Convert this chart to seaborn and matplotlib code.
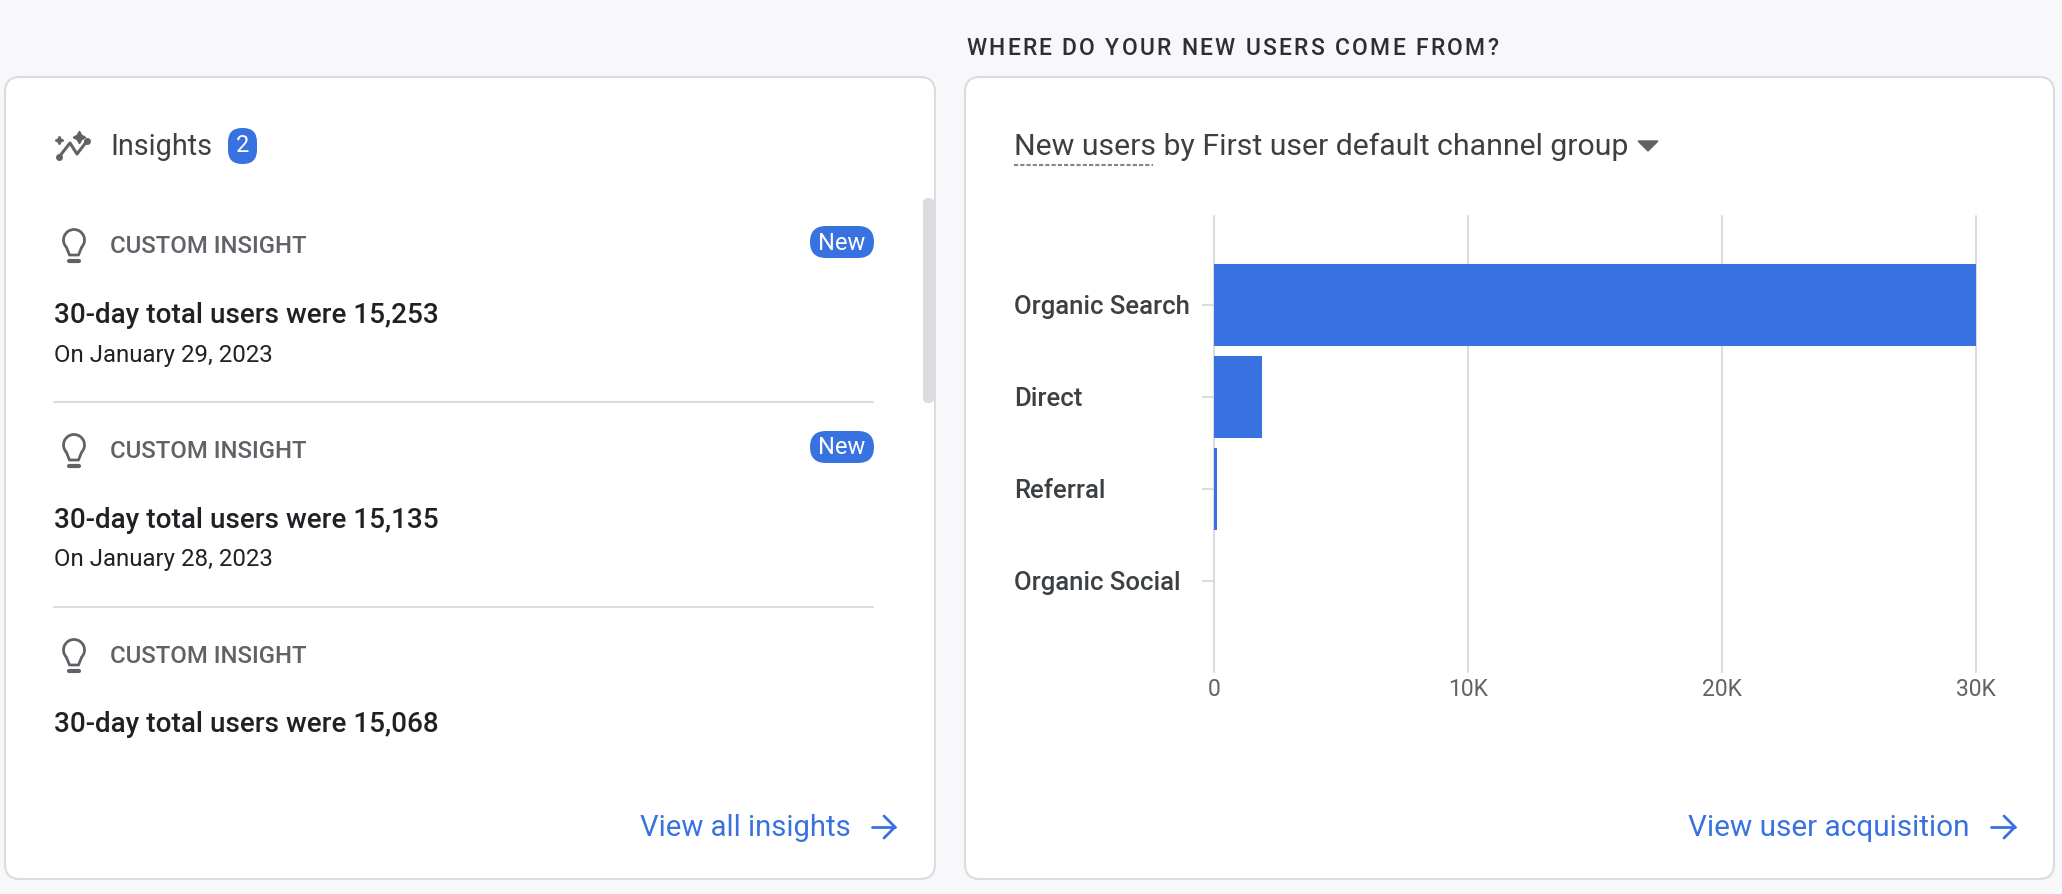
import matplotlib

matplotlib.use("Agg")
import matplotlib.pyplot as plt
import pandas as pd
import seaborn as sns
from matplotlib.patches import Arc, FancyBboxPatch, Polygon

# --- chart values ---
channels = ["Organic Search", "Direct", "Referral", "Organic Social"]
new_users = [30000, 1900, 110, 15]
x_ticks = [0, 10000, 20000, 30000]
x_tick_labels = ["0", "10K", "20K", "30K"]

# --- panel text ---
insight_totals = ["15,253", "15,135", "15,068"]
insight_dates = ["January 29, 2023", "January 28, 2023", None]
insight_is_new = [True, True, False]

W, H = 2062, 894
BLUE = "#3871e0"
GRID = "#dadce0"
DARK = "#202124"
TEXT = "#3c4043"
GREY = "#5f6368"

sns.set_theme(style="white")
plt.rcParams["font.family"] = ["Roboto", "DejaVu Sans"]

fig = plt.figure(figsize=(W / 100, H / 100), dpi=100, facecolor="#f8f8fb")

# page layer works in image pixels, y going down
page = fig.add_axes([0, 0, 1, 1])
page.set_xlim(0, W)
page.set_ylim(H, 0)
page.axis("off")
renderer = fig.canvas.get_renderer()


def put(txt, x0, x1, base, color, weight=400):
    """Places text on a baseline, sized so it runs from x0 to x1."""
    t = page.text(x0, base, txt, fontsize=10, color=color, weight=weight, va="baseline")
    t.set_fontsize(10 * (x1 - x0) / t.get_window_extent(renderer).width)
    return t


def spaced(txt, x0, x1, base, color, size, weight=400):
    """Letter-spaced text, matplotlib has no tracking option."""
    widths = []
    for i in range(1, len(txt) + 1):
        t = page.text(0, 0, txt[:i].replace(" ", "\u00a0"), fontsize=size, weight=weight)
        widths.append(t.get_window_extent(renderer).width)
        t.remove()
    gap = (x1 - x0 - widths[-1]) / (len(txt) - 1)
    for i, ch in enumerate(txt):
        left = widths[i - 1] if i else 0
        page.text(x0 + left + gap * i, base, ch, fontsize=size, color=color, weight=weight, va="baseline")


def card(x0, y0, x1, y1):
    page.add_patch(
        FancyBboxPatch(
            (x0, y0), x1 - x0, y1 - y0,
            boxstyle="round,pad=0,rounding_size=15",
            facecolor="white", edgecolor=GRID, linewidth=1.5,
        )
    )


def pill(x0, y0, x1, y1, color, radius=15):
    page.add_patch(
        FancyBboxPatch(
            (x0, y0), x1 - x0, y1 - y0,
            boxstyle=f"round,pad=0,rounding_size={radius}",
            facecolor=color, edgecolor="none",
        )
    )


def bulb(cx, top):
    page.add_patch(Arc((cx, top + 11), 21, 21, theta1=135, theta2=45, color=GREY, lw=2))
    page.plot([cx - 7.5, cx - 4.5, cx + 4.5, cx + 7.5],
              [top + 18.5, top + 26, top + 26, top + 18.5], color=GREY, lw=2)
    page.plot([cx - 5, cx + 5], [top + 32, top + 32], color=GREY, lw=3, solid_capstyle="round")


def arrow(x0, x1, y):
    page.plot([x0, x1], [y, y], color=BLUE, lw=2)
    page.plot([x1 - 11, x1, x1 - 11], [y - 11, y, y + 11], color=BLUE, lw=2)


# --- cards ---
card(5, 77, 935, 879)
card(965, 77, 2054, 879)
spaced("WHERE DO YOUR NEW USERS COME FROM?", 966, 1498, 55, "#2d2f33", 16.5, 500)

# --- insights panel ---
page.plot([59, 70, 77, 87], [157, 143, 154, 141], color=GREY, lw=2.2)
page.plot([59, 87], [157, 141], "o", color=GREY, ms=4)
page.plot([59], [140], marker=(4, 1, 0), color=GREY, ms=6)
page.plot([79], [137], marker=(4, 1, 0), color=GREY, ms=9)
put("Insights", 110, 212, 155, TEXT)
pill(228, 128, 257, 164, BLUE, 14)
page.text(242.5, 146, "2", color="white", fontsize=17, ha="center", va="center")

for i, total in enumerate(insight_totals):
    off = 205 * i
    bulb(74, 229 + off)
    put("CUSTOM INSIGHT", 110.5, 306, 253 + off, GREY, 500)
    put(f"30-day total users were {total}", 54, 438, 323 + off - 0.5 * i, DARK, 500)
    if insight_is_new[i]:
        pill(810, 226 + off, 874, 258 + off, BLUE, 16)
        page.text(842, 243 + off, "New", color="white", fontsize=17, ha="center", va="center")
    if insight_dates[i]:
        put(f"On {insight_dates[i]}", 54, 272, 362 + off - i, DARK)
        page.plot([54, 873], [402 + off, 402 + off], color=GRID, lw=1.5)

pill(923, 198, 934, 403, GRID, 5)
put("View all insights", 640, 850, 836, BLUE)
arrow(872, 895, 827)

# --- channel panel header ---
put("New users by First user default channel group", 1014, 1631, 155, TEXT)
page.plot([1014, 1153], [165, 165], color="#80868b", lw=1.5, dashes=(2, 1))
page.add_patch(Polygon([(1638, 141), (1658, 141), (1648, 151)], color=GREY))
put("View user acquisition", 1688, 1970, 836, BLUE)
arrow(1991, 2015, 827)

# --- bar chart ---
ax = fig.add_axes([1214 / W, 1 - 672 / H, (1976 - 1214) / W, (672 - 216) / H])
ax.patch.set_alpha(0)
df = pd.DataFrame({"channel": channels, "new_users": new_users})
sns.barplot(
    data=df, x="new_users", y="channel", orient="h", ax=ax,
    color=BLUE, saturation=1, width=0.89, linewidth=0, zorder=3,
)
ax.set_xlim(0, 30000)
ax.set_ylim(3.99, -0.967)
ax.set_xlabel("")
ax.set_ylabel("")
sns.despine(ax=ax, left=True, bottom=True, top=True, right=True)
ax.set_xticks(x_ticks, x_tick_labels)
ax.grid(False)
for x in x_ticks:
    ax.axvline(x, color=GRID, lw=1.5, clip_on=False, zorder=1)
ax.tick_params(axis="x", length=0, pad=4, labelsize=16.5, labelcolor=GREY)
ax.tick_params(axis="y", left=True, length=9, width=1.5, color=GRID, pad=135.2, labelsize=18.5, labelcolor=TEXT)
for label in ax.get_yticklabels():
    label.set_ha("left")
    label.set_fontweight(500)

fig.savefig("out.png", dpi=100, facecolor=fig.get_facecolor())
